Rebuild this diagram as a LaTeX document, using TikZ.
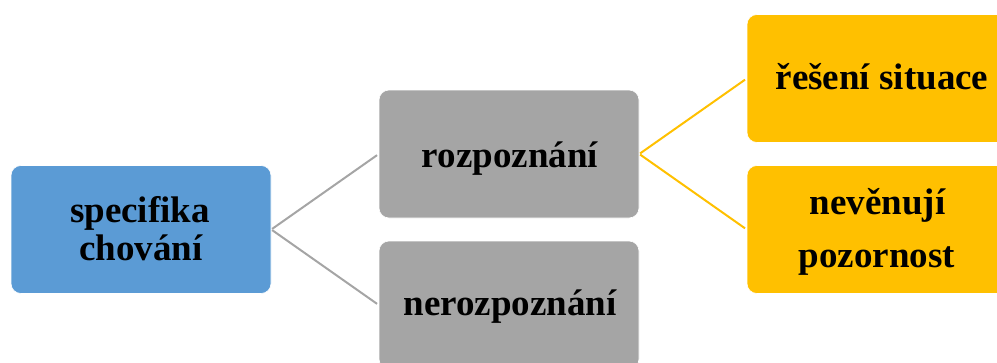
\documentclass[tikz,border=0pt]{standalone}
\usepackage{fontspec}
\setmainfont{Liberation Serif}
\definecolor{cblue}{HTML}{5B9BD5}
\definecolor{cgray}{HTML}{A5A5A5}
\definecolor{cgold}{HTML}{FFC000}
\begin{document}
\begin{tikzpicture}[x=1pt,y=-1pt,
  box/.style={rounded corners=10pt, minimum width=260pt, minimum height=128pt, inner sep=0pt, draw=white, line width=0.6pt},
  lbl/.style={anchor=base, inner sep=0pt, font=\fontsize{37}{38}\selectfont\bfseries},
  gline/.style={draw=cgray, line width=2pt},
  yline/.style={draw=cgold, line width=2pt}]
\useasboundingbox (0,0) rectangle (997,362);
\begin{scope}
\clip (0,0) rectangle (997,362);
\node[box, fill=cblue] (sp) at (141,229.5) {};
\node[box, fill=cgray] (ro) at (509,154) {};
\node[box, fill=cgray] (ne) at (509,305) {};
\node[box, fill=cgold] (re) at (877,78.5) {};
\node[box, fill=cgold] (nv) at (877,229.5) {};
\node[lbl] (t1) at (140,222) {specifika};
\node[lbl] (t2) at (141,260) {chování};
\node[lbl] (t3) at (510,167) {rozpoznání};
\node[lbl] (t4) at (510,315) {nerozpoznání};
\node[lbl] (t5) at (882,89) {řešení situace};
\node[lbl] (t6) at (877.5,214) {nevěnují};
\node[lbl] (t7) at (877,267) {pozornost};
\draw[gline, shorten <=1pt, shorten >=2pt] (sp.east) -- (ro.west);
\draw[gline, shorten <=1pt, shorten >=2pt] (sp.east) -- (ne.west);
\draw[yline, shorten <=1pt, shorten >=2pt] (ro.east) -- (re.west);
\draw[yline, shorten <=1pt, shorten >=2pt] (ro.east) -- (nv.west);
\end{scope}
\end{tikzpicture}
\end{document}
